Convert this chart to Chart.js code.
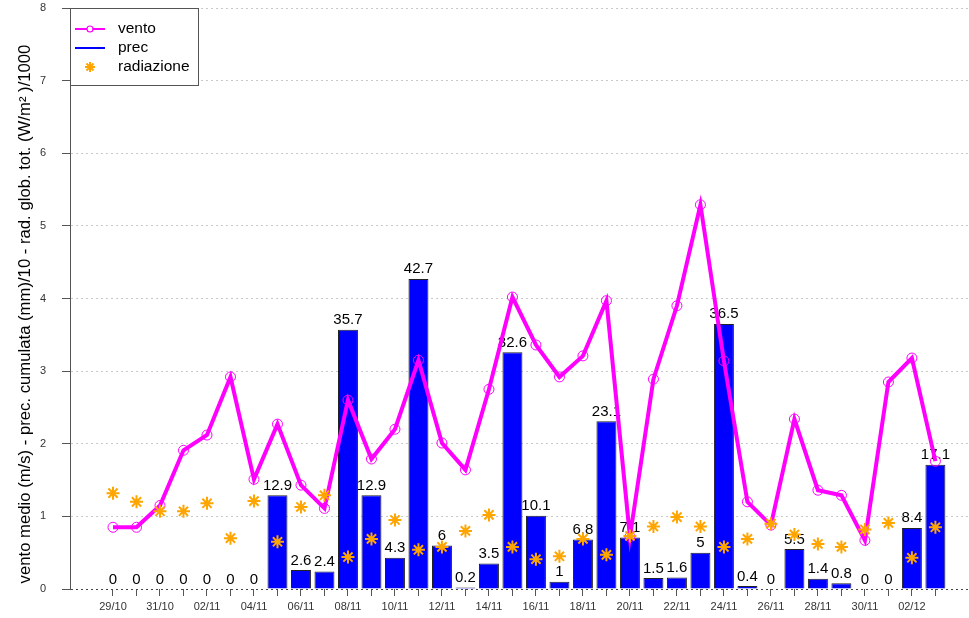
<!DOCTYPE html>
<html>
<head>
<meta charset="utf-8">
<script src="https://cdn.jsdelivr.net/npm/chart.js@4.4.0/dist/chart.umd.min.js"></script>
<style>
  html, body { margin: 0; padding: 0; background: #fff; }
</style>
</head>
<body>
<canvas id="chart" width="969" height="618"></canvas>
<script>
// Days (29/10 -> 03/12)
const days = ['29/10', '30/10', '31/10', '01/11', '02/11', '03/11', '04/11', '05/11', '06/11',
    '07/11', '08/11', '09/11', '10/11', '11/11', '12/11', '13/11', '14/11', '15/11', '16/11',
    '17/11', '18/11', '19/11', '20/11', '21/11', '22/11', '23/11', '24/11', '25/11', '26/11',
    '27/11', '28/11', '29/11', '30/11', '01/12', '02/12', '03/12'];

// cumulated precipitation (mm), drawn as mm/10
const prec = [0, 0, 0, 0, 0, 0, 0, 12.9, 2.6, 2.4, 35.7, 12.9, 4.3, 42.7, 6, 0.2, 3.5, 32.6,
    10.1, 1, 6.8, 23.1, 7.1, 1.5, 1.6, 5, 36.5, 0.4, 0, 5.5, 1.4, 0.8, 0, 0, 8.4, 17.1];

// mean wind (m/s)
const vento = [0.85, 0.85, 1.15, 1.91, 2.12, 2.92, 1.51, 2.27, 1.43, 1.11, 2.60, 1.79, 2.20,
    3.15, 2.01, 1.64, 2.75, 4.02, 3.36, 2.92, 3.21, 3.97, 0.72, 2.89, 3.90, 5.29, 3.14, 1.20,
    0.88, 2.34, 1.36, 1.29, 0.67, 2.85, 3.18, 1.76];

// global radiation (W/m2)/1000
const radiazione = [1.32, 1.20, 1.07, 1.07, 1.18, 0.70, 1.21, 0.65, 1.13, 1.29, 0.44, 0.69,
    0.95, 0.54, 0.58, 0.80, 1.02, 0.58, 0.41, 0.45, 0.69, 0.47, 0.73, 0.86, 0.99, 0.86, 0.58,
    0.69, 0.90, 0.75, 0.62, 0.58, 0.82, 0.91, 0.43, 0.85];

const yTicks = [0, 1, 2, 3, 4, 5, 6, 7, 8];
const yTitle = 'vento medio (m/s) - prec. cumulata (mm)/10 - rad. glob. tot. (W/m² )/1000';

const FONT = 'Arial, "Liberation Sans", sans-serif';

// Value labels on top of the bars (drawn under the line and stars)
const barLabels = {
    id: 'barLabels',
    afterDatasetDraw(chart, args) {
        if (args.meta.type !== 'bar') return;
        const ctx = chart.ctx;
        ctx.save();
        ctx.font = '15px ' + FONT;
        ctx.fillStyle = '#000';
        ctx.textAlign = 'center';
        ctx.textBaseline = 'alphabetic';
        args.meta.data.forEach((bar, i) => {
            ctx.fillText(String(prec[i]), bar.x, bar.y - 5.5);
        });
        ctx.restore();
    }
};

// Boxed legend top-left + rotated y title
const decorations = {
    id: 'decorations',
    afterDraw(chart) {
        const ctx = chart.ctx;
        ctx.save();

        // y axis title
        ctx.translate(25, 314);
        ctx.rotate(-Math.PI / 2);
        ctx.font = '16.7px ' + FONT;
        ctx.fillStyle = '#000';
        ctx.textAlign = 'center';
        ctx.textBaseline = 'middle';
        ctx.fillText(yTitle, 0, 0);
        ctx.setTransform(1, 0, 0, 1, 0, 0);

        // legend box
        ctx.fillStyle = '#fff';
        ctx.fillRect(70.5, 8.5, 128, 77);
        ctx.strokeStyle = '#555';
        ctx.lineWidth = 1;
        ctx.strokeRect(70.5, 8.5, 128, 77);

        // vento
        ctx.strokeStyle = '#ff00ff';
        ctx.lineWidth = 2;
        ctx.beginPath();
        ctx.moveTo(75, 29);
        ctx.lineTo(105, 29);
        ctx.stroke();
        ctx.fillStyle = '#fff';
        ctx.lineWidth = 1.2;
        ctx.beginPath();
        ctx.arc(90, 29, 3, 0, Math.PI * 2);
        ctx.fill();
        ctx.stroke();

        // prec
        ctx.strokeStyle = '#0000ff';
        ctx.lineWidth = 2;
        ctx.beginPath();
        ctx.moveTo(75, 48);
        ctx.lineTo(105, 48);
        ctx.stroke();

        // radiazione
        ctx.strokeStyle = '#ffa500';
        ctx.lineWidth = 2;
        const r = 5, cx = 90, cy = 67, d = r * 0.7071;
        ctx.beginPath();
        ctx.moveTo(cx - r, cy); ctx.lineTo(cx + r, cy);
        ctx.moveTo(cx, cy - r); ctx.lineTo(cx, cy + r);
        ctx.moveTo(cx - d, cy - d); ctx.lineTo(cx + d, cy + d);
        ctx.moveTo(cx - d, cy + d); ctx.lineTo(cx + d, cy - d);
        ctx.stroke();

        ctx.font = '15.5px ' + FONT;
        ctx.fillStyle = '#000';
        ctx.textAlign = 'left';
        ctx.textBaseline = 'middle';
        ctx.fillText('vento', 118, 29);
        ctx.fillText('prec', 118, 48);
        ctx.fillText('radiazione', 118, 67);
        ctx.restore();
    }
};

const chart = new Chart(document.getElementById('chart'), {
    type: 'bar',
    data: {
        datasets: [
            {
                type: 'bar',
                label: 'prec',
                data: prec.map((v, i) => ({ x: i, y: v / 10 })),
                backgroundColor: '#0000ff',
                borderColor: '#222',
                borderWidth: 1,
                barPercentage: 0.85,
                categoryPercentage: 1,
                order: 3
            },
            {
                type: 'line',
                label: 'vento',
                data: vento.map((v, i) => ({ x: i, y: v })),
                borderColor: '#ff00ff',
                borderWidth: 4,
                pointRadius: 5,
                pointBorderWidth: 1,
                pointBorderColor: '#ff00ff',
                pointBackgroundColor: 'rgba(0,0,0,0)',
                tension: 0,
                order: 2
            },
            {
                type: 'line',
                label: 'radiazione',
                data: radiazione.map((v, i) => ({ x: i, y: v })),
                showLine: false,
                pointStyle: 'star',
                pointRadius: 6.5,
                pointBorderWidth: 2,
                pointBorderColor: '#ffa500',
                borderColor: '#ffa500',
                order: 1
            }
        ]
    },
    options: {
        responsive: false,
        animation: false,
        layout: { autoPadding: false, padding: { top: 8, left: 0, right: 0, bottom: 0 } },
        plugins: {
            legend: { display: false },
            tooltip: { enabled: false }
        },
        scales: {
            x: {
                type: 'linear',
                offset: false,
                min: -1.83,
                max: 36.43,
                afterBuildTicks: axis => {
                    axis.ticks = days.map((d, i) => ({ value: i }));
                },
                afterFit: axis => {
                    axis.height = 29;
                    axis.paddingLeft = 0;
                    axis.paddingRight = 0;
                },
                ticks: {
                    autoSkip: false,
                    maxRotation: 0,
                    padding: 4,
                    color: '#333',
                    font: { family: FONT, size: 11 },
                    callback: value => (value % 2 === 0 ? days[value] : '')
                },
                grid: {
                    offset: false,
                    drawOnChartArea: false,
                    tickLength: 7,
                    tickColor: '#555'
                },
                border: { display: false }
            },
            y: {
                min: 0,
                max: 8,
                afterBuildTicks: axis => {
                    axis.ticks = yTicks.map(v => ({ value: v }));
                },
                afterFit: axis => {
                    axis.width = 70;
                    axis.paddingTop = 0;
                    axis.paddingBottom = 0;
                },
                ticks: {
                    padding: 16,
                    color: '#333',
                    font: { family: FONT, size: 11 }
                },
                grid: {
                    color: c => (c.tick && c.tick.value === 0 ? '#444' : '#c8c8c8'),
                    tickLength: 8,
                    tickColor: '#555'
                },
                border: { color: '#555', dash: [2, 3] }
            }
        }
    },
    plugins: [barLabels, decorations]
});
</script>
</body>
</html>
